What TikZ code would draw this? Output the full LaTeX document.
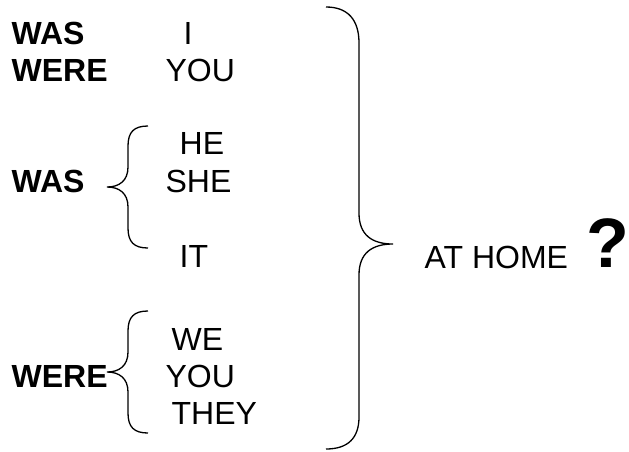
\documentclass[tikz,border=0pt]{standalone}
\usepackage{fontspec}
\setmainfont{Liberation Sans}
\begin{document}
\begin{tikzpicture}[x=1pt,y=-1pt,line width=1.3pt,
    word/.style={anchor=base west,inner sep=0pt,font=\fontsize{32}{38}\selectfont},
    verb/.style={word,font=\fontsize{32}{38}\selectfont\bfseries}]
    \useasboundingbox (0,0) rectangle (629,451);
    \node[verb] (was1) at (11,44) {WAS};
    \node[verb] (were1) at (11,81) {WERE};
    \node[word] (i) at (183,44) {I};
    \node[word] (you1) at (165,81) {YOU};
    \node[word] (he) at (179,154) {HE};
    \node[word] (she) at (165,192) {SHE};
    \node[verb] (was2) at (11,192) {WAS};
    \node[word] (it) at (179,267) {IT};
    \node[word] (we) at (171,350) {WE};
    \node[word] (you2) at (165,387) {YOU};
    \node[word] (they) at (171,424) {THEY};
    \node[verb] (were2) at (11,387) {WERE};
    \node[word] (home) at (424,268) {AT HOME};
    \node[anchor=base west,inner sep=0pt,font=\fontsize{70}{80}\selectfont\bfseries] (q) at (586,267) {?};
    % small braces
    \draw (148,126) .. controls (134,126) and (128,132) .. (128,146) -- (128,167)
        .. controls (128,181) and (119,187) .. (107,187)
        .. controls (119,187) and (128,193) .. (128,207) -- (128,228)
        .. controls (128,242) and (134,248) .. (148,248);
    \draw (148,311) .. controls (134,311) and (128,317) .. (128,331) -- (128,352)
        .. controls (128,366) and (119,372) .. (107,372)
        .. controls (119,372) and (128,378) .. (128,392) -- (128,413)
        .. controls (128,427) and (134,433) .. (148,433);
    % big brace
    \draw (326,7) .. controls (348,7) and (359,20) .. (359,43) -- (359,213)
        .. controls (359,235) and (372,244) .. (393,244)
        .. controls (372,244) and (359,253) .. (359,275) -- (359,417)
        .. controls (359,438) and (348,449) .. (326,449);
\end{tikzpicture}
\end{document}
